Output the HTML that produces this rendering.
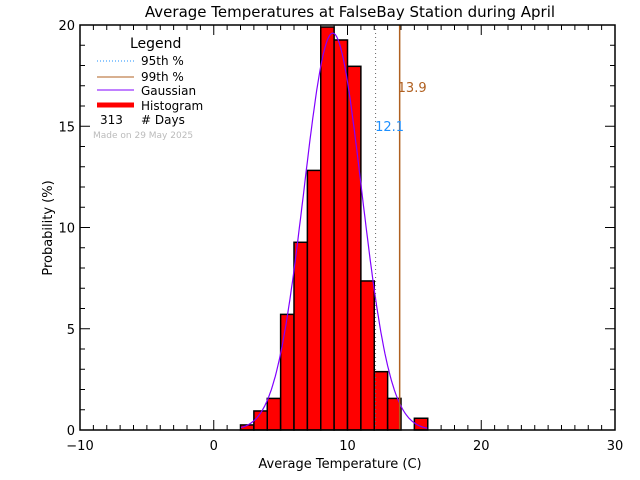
<!DOCTYPE html>
<html><head><meta charset="utf-8"><style>
body{margin:0;background:#fff;}
svg{display:block;font-family:"DejaVu Sans","Liberation Sans",sans-serif;}
</style></head><body>
<svg id="chart" width="640" height="480" viewBox="0 0 640 480">
<text x="350" y="17" font-size="15" text-anchor="middle">Average Temperatures at FalseBay Station during April</text>
<text x="340" y="468" font-size="13" text-anchor="middle">Average Temperature (C)</text>
<text transform="translate(52,228) rotate(-90)" font-size="13" text-anchor="middle">Probability  (%)</text>
<g id="plot"></g>
<g>
<text x="130" y="48" font-size="14">Legend</text>
<line x1="97" y1="61" x2="134" y2="61" stroke="#1e90ff" stroke-dasharray="1,2"/>
<text x="141" y="65" font-size="12">95th %</text>
<line x1="97" y1="77" x2="134" y2="77" stroke="#b06020"/>
<text x="141" y="81" font-size="12">99th %</text>
<line x1="97" y1="90" x2="134" y2="90" stroke="#8000ff"/>
<text x="141" y="95" font-size="12">Gaussian</text>
<line x1="97" y1="105" x2="134" y2="105" stroke="#ff0000" stroke-width="5"/>
<text x="141" y="110" font-size="12">Histogram</text>
<text x="100" y="124" font-size="12">313</text>
<text x="141" y="124" font-size="12"># Days</text>
<text x="93" y="138" font-size="9" fill="#bbbbbb">Made on 29 May 2025</text>
</g>
</svg>
<script>
const binStarts=[2,3,4,5,6,7,8,9,10,11,12,13,14,15];
const binValues=[0.25,0.94,1.56,5.71,9.27,12.82,19.9,19.26,17.96,7.36,2.88,1.56,0,0.58];
const gaussMean=8.9, gaussSigma=2.15, gaussPeak=19.6;
const p95=12.1, p99=13.9;
const xTicks=[-10,0,10,20,30];
const yTicks=[0,5,10,15,20];
const X0=80,X1=615,Y0=430,Y1=25,xmin=-10,xmax=30,ymin=0,ymax=20;
const sx=v=>X0+(v-xmin)/(xmax-xmin)*(X1-X0);
const sy=v=>Y0-(v-ymin)/(ymax-ymin)*(Y0-Y1);
const NS="http://www.w3.org/2000/svg";
const g=document.getElementById('plot');
function mk(t,a){const e=document.createElementNS(NS,t);for(const k in a)e.setAttribute(k,a[k]);g.appendChild(e);return e;}
// bars
binStarts.forEach((b,i)=>{
  if(binValues[i]<=0)return;
  const r=mk('rect',{x:sx(b),y:sy(binValues[i]),width:sx(b+1)-sx(b),height:sy(0)-sy(binValues[i]),fill:'#ff0000',stroke:'#000','stroke-width':1.5});
  
  
});
// gaussian
let pts=[];
for(let x=2;x<=16.01;x+=0.1){const y=gaussPeak*Math.exp(-0.5*Math.pow((x-gaussMean)/gaussSigma,2));pts.push(sx(x).toFixed(1)+','+sy(y).toFixed(1));}
const gl=mk('polyline',{points:pts.join(' '),fill:'none',stroke:'#8000ff','stroke-width':1.2});


// percentile lines
const l95=mk('line',{x1:sx(p95),x2:sx(p95),y1:Y1,y2:Y0,stroke:'#666','stroke-dasharray':'1,3'});


const l99=mk('line',{x1:sx(p99),x2:sx(p99),y1:Y1,y2:Y0,stroke:'#b06020','stroke-width':1.5});


const t95=mk('text',{x:sx(p95)-0.5,y:131,'font-size':13,fill:'#1e90ff'});t95.textContent=p95.toFixed(1);


const t99=mk('text',{x:sx(p99)-2,y:92,'font-size':13,fill:'#b06020'});t99.textContent=p99.toFixed(1);


// axes frame
const fr=mk('rect',{x:X0,y:Y1,width:X1-X0,height:Y0-Y1,fill:'none',stroke:'#000','stroke-width':1.5});


// x ticks
for(let v=xmin;v<=xmax;v++){const major=v%10===0;const L=major?10:5;
  mk('line',{x1:sx(v),x2:sx(v),y1:Y0,y2:Y0-L,stroke:'#000'});
  mk('line',{x1:sx(v),x2:sx(v),y1:Y1,y2:Y1+L,stroke:'#000'});}
xTicks.forEach(v=>{const t=mk('text',{x:sx(v),y:Y0+20,'font-size':13,'text-anchor':'middle'});t.textContent=v<0?'\u2212'+(-v):v;
  
  });
for(let v=ymin;v<=ymax;v++){const major=v%5===0;const L=major?10:5;
  mk('line',{x1:X0,x2:X0+L,y1:sy(v),y2:sy(v),stroke:'#000'});
  mk('line',{x1:X1,x2:X1-L,y1:sy(v),y2:sy(v),stroke:'#000'});}
yTicks.forEach(v=>{const t=mk('text',{x:X0-5,y:sy(v)+5,'font-size':13,'text-anchor':'end'});t.textContent=v;
  
  });
</script>
</body></html>
